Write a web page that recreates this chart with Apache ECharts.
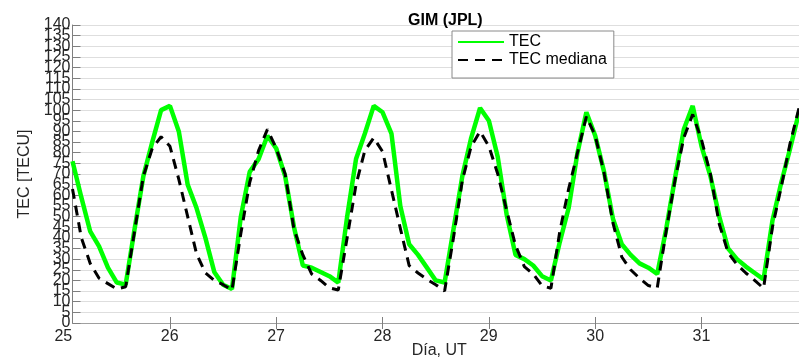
<!DOCTYPE html>
<html><head><meta charset="utf-8">
<script src="https://cdn.jsdelivr.net/npm/echarts@6/dist/echarts.min.js"></script>
<style>html,body{margin:0;padding:0;background:#fff}#c{width:799px;height:364px}</style>
</head><body><div id="c"></div><script>
// ---- data ----
const dayLabels = [25, 26, 27, 28, 29, 30, 31];
const innerTicks = [26, 27, 28, 29, 30, 31];
const yMin = 0, yMax = 140, yStep = 5;
const yLabelsEven = [0, 10, 20, 30, 40, 50, 60, 70, 80, 90, 100, 110, 120, 130, 140];
const yLabelsOdd = [5, 15, 25, 35, 45, 55, 65, 75, 85, 95, 105, 115, 125, 135];
// 2-hourly samples, first at day 25 02:00 UT
const sampleStartDay = 25 + 2 / 24;
const sampleStepDays = 2 / 24;
const tec = [
  76, 59, 43, 36, 26, 19, 18, 44, 69, 85, 100,
  102, 90, 65, 54, 40, 24, 18, 16, 50, 71, 77, 88,
  82, 69, 45, 27, 26, 24, 22, 19, 50, 77, 89, 102,
  99, 89, 55, 37, 32, 26, 20, 19, 44, 69, 87, 101,
  95, 78, 51, 32, 30, 27, 22, 20, 38, 54, 80, 99,
  88, 71, 49, 37, 32, 28, 26, 23, 44, 68, 91, 102,
  83, 69, 50, 35, 30, 26.5, 23.5, 20.5, 48, 66, 82, 99
];
const tecMediana = [
  63, 40, 28, 21, 18.5, 16, 17, 43, 69, 82, 87.5,
  83, 67.5, 50, 32.5, 23.5, 20, 18, 15.5, 42, 66, 81, 91,
  82, 70, 44, 32, 23, 20, 16.5, 15.5, 40, 65, 81, 87,
  80.5, 62.5, 44.5, 27, 23.5, 20.5, 18, 15, 40, 67, 83, 90,
  83, 70, 53, 36.5, 26.5, 23, 17.5, 16.3, 43, 63, 80, 97,
  88, 70.5, 47, 31, 25, 21, 17.6, 16.5, 43, 67, 87, 98,
  86, 70, 46.5, 33, 27.5, 23.5, 20, 16.3, 45, 64, 84.5, 101
];

const toXY = arr => arr.map((v, i) => [sampleStartDay + i * sampleStepDays, v]);
const lastDay = sampleStartDay + (tec.length - 1) * sampleStepDays;

const FONT = 'Liberation Sans, Arial, sans-serif';
const AXIS_GRAY = '#7f7f7f';
const TEXT = '#262626';
const yLabelStyle = {fontFamily: FONT, fontSize: 16, color: TEXT, margin: 2};

const chart = echarts.init(document.getElementById('c'), null, {renderer: 'canvas'});
chart.setOption({
  animation: false,
  backgroundColor: '#fff',
  title: {
    text: 'GIM (JPL)', left: 403, top: 8,
    textStyle: {fontFamily: FONT, fontSize: 16, fontWeight: 'bold', color: '#000'}
  },
  legend: {
    orient: 'vertical', left: 452, top: 31,
    itemWidth: 46, itemHeight: 14, itemGap: 2,
    padding: [3, 7, 10, 5],
    backgroundColor: '#fff', borderColor: '#8a8a8a', borderWidth: 1,
    itemStyle: {opacity: 0, borderWidth: 0},
    lineStyle: {opacity: 1},
    textStyle: {fontFamily: FONT, fontSize: 16, lineHeight: 16, color: '#000'},
    data: ['TEC', 'TEC mediana']
  },
  grid: [
    {left: 72.5, top: 25, width: 728.6, height: 298, containLabel: false},
    {left: 63.3, top: 25, width: 737.8, height: 298, containLabel: false}
  ],
  xAxis: [
    {
      type: 'value', gridIndex: 0, position: 'bottom',
      min: sampleStartDay, max: lastDay,
      axisLine: {show: true, lineStyle: {color: AXIS_GRAY, width: 1}},
      axisTick: {show: true, inside: true, length: 6, customValues: innerTicks, lineStyle: {color: AXIS_GRAY}},
      axisLabel: {show: false},
      splitLine: {show: false},
      name: 'Día, UT', nameLocation: 'middle', nameGap: 20,
      nameTextStyle: {fontFamily: FONT, fontSize: 16, color: TEXT, padding: [0, 0, 0, 7]}
    },
    {
      type: 'value', gridIndex: 0, position: 'top',
      min: sampleStartDay, max: lastDay,
      axisLine: {show: true, lineStyle: {color: '#a0a0a0', width: 1}},
      axisTick: {show: true, inside: true, length: 6, customValues: innerTicks, lineStyle: {color: AXIS_GRAY}},
      axisLabel: {show: false},
      splitLine: {show: false}
    },
    {
      type: 'value', gridIndex: 1, position: 'bottom',
      min: dayLabels[0], max: lastDay,
      axisLine: {show: false}, axisTick: {show: false}, splitLine: {show: false},
      axisLabel: {
        show: true, customValues: dayLabels, margin: 6,
        fontFamily: FONT, fontSize: 16, color: TEXT
      }
    }
  ],
  yAxis: [
    {
      type: 'value', gridIndex: 0, min: yMin, max: yMax, interval: yStep, position: 'left',
      axisLine: {show: true, lineStyle: {color: AXIS_GRAY, width: 1}},
      axisTick: {show: true, inside: true, length: 8, lineStyle: {color: AXIS_GRAY}},
      axisLabel: Object.assign({show: true, customValues: yLabelsEven}, yLabelStyle),
      splitLine: {show: true, lineStyle: {color: '#bdbdbd', width: 1, type: 'dotted'}},
      name: 'TEC [TECU]', nameLocation: 'middle', nameGap: 38,
      nameTextStyle: {fontFamily: FONT, fontSize: 16, color: TEXT}
    },
    {
      type: 'value', gridIndex: 1, min: yMin, max: yMax, show: false
    },
    {
      type: 'value', gridIndex: 0, min: yMin, max: yMax, position: 'left', offset: 0,
      axisLine: {show: false}, axisTick: {show: false}, splitLine: {show: false},
      axisLabel: Object.assign({show: true, customValues: yLabelsOdd}, yLabelStyle)
    }
  ],
  series: [
    {
      name: 'TEC', type: 'line', xAxisIndex: 0, yAxisIndex: 0,
      data: toXY(tec), symbol: 'none', showSymbol: false,
      lineStyle: {color: '#00ff00', width: 4.5},
      itemStyle: {color: '#00ff00'}, z: 2
    },
    {
      name: 'TEC mediana', type: 'line', xAxisIndex: 0, yAxisIndex: 0,
      data: toXY(tecMediana), symbol: 'none', showSymbol: false,
      lineStyle: {color: '#000', width: 3, type: [10, 7]},
      itemStyle: {color: '#000'}, z: 3
    }
  ]
});
</script></body></html>
